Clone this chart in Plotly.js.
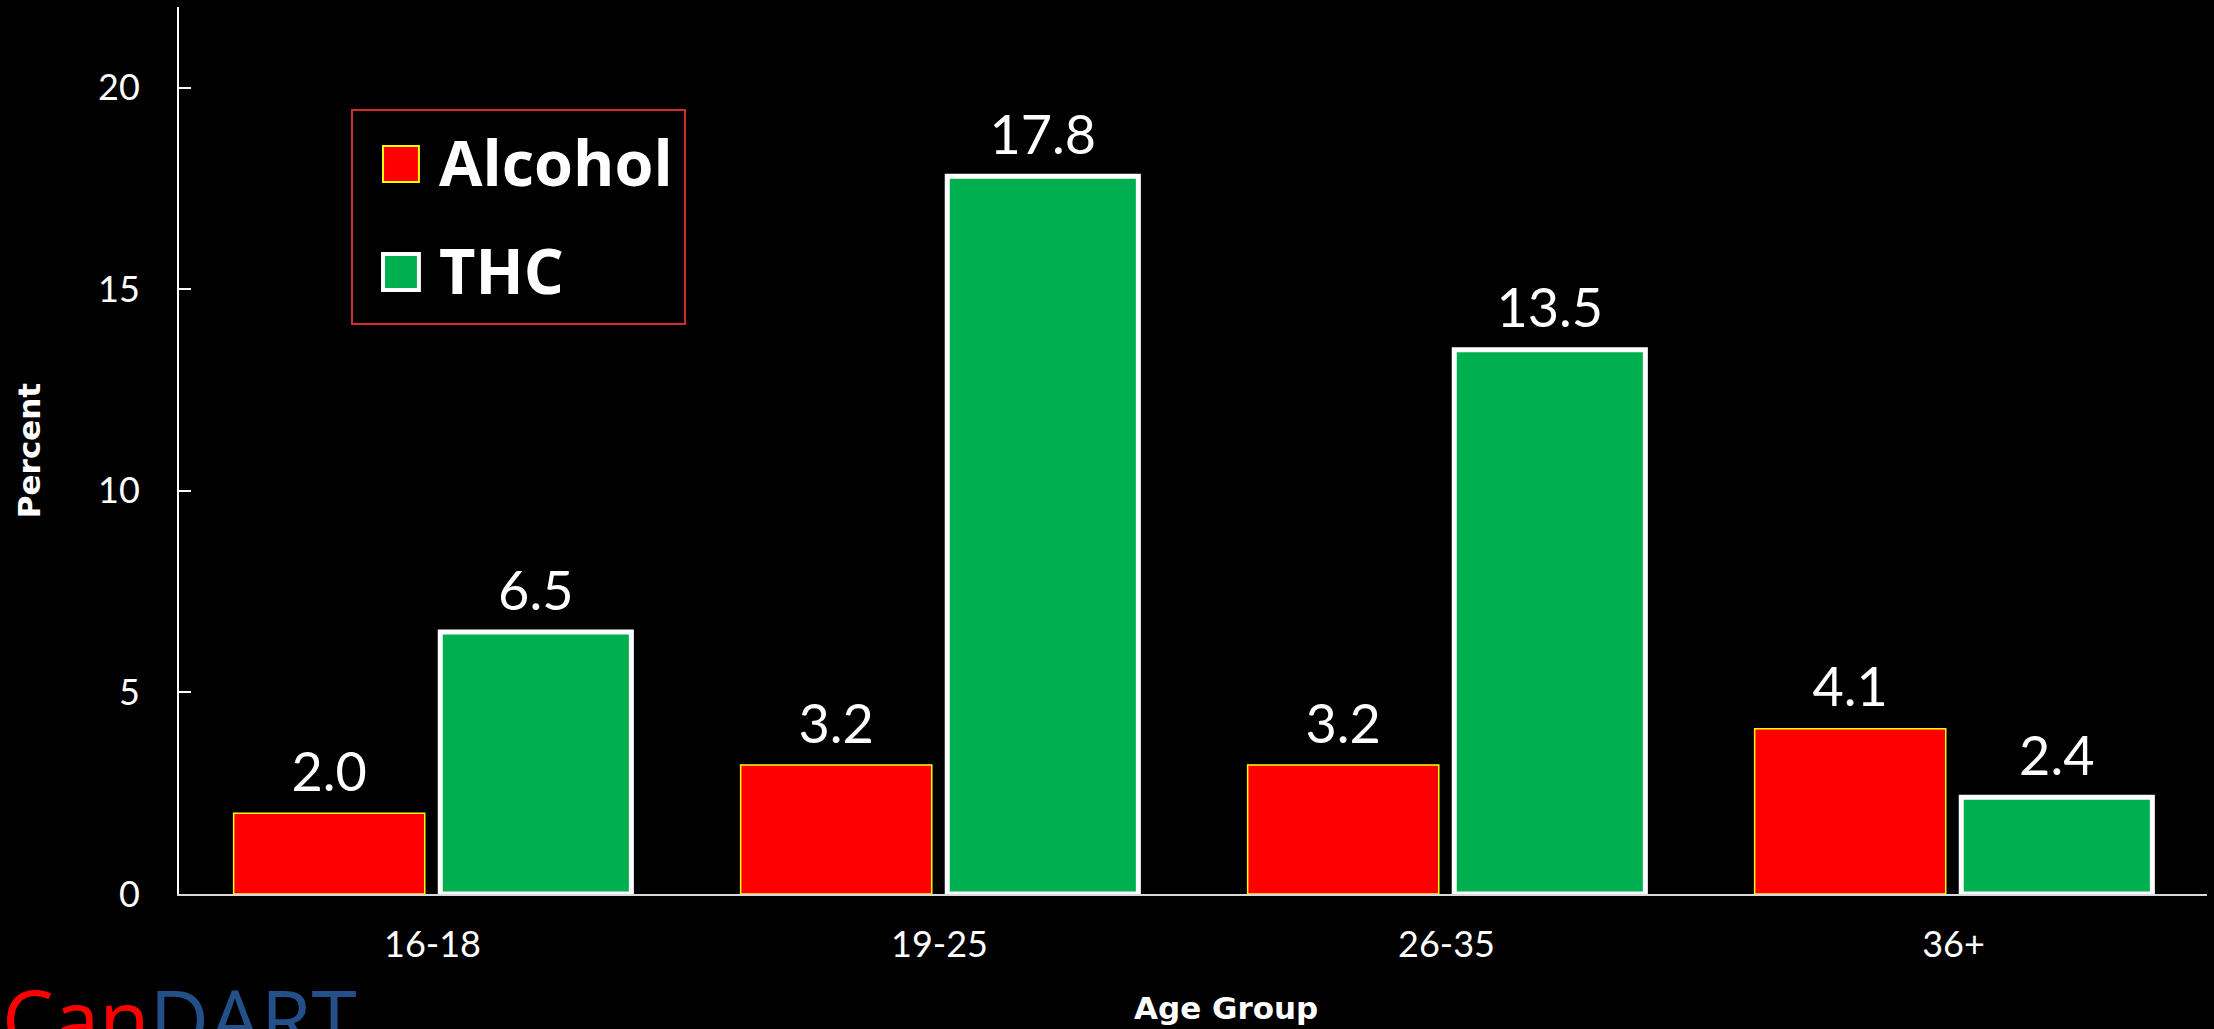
<!DOCTYPE html>
<html>
<head>
<meta charset="utf-8">
<script src="https://cdn.plot.ly/plotly-3.0.1.min.js"></script>
<style>
html,body{margin:0;padding:0;background:#000;}
#chart{width:2214px;height:1029px;}
</style>
</head>
<body>
<div id="chart"></div>
<script>
// ---- data ----
const ageGroups = ["16-18", "19-25", "26-35", "36+"];
const alcoholValues = [2.0, 3.2, 3.2, 4.1];
const thcValues = [6.5, 17.8, 13.5, 2.4];
const seriesNames = ["Alcohol", "THC"];
const yTickValues = [0, 5, 10, 15, 20];
const xAxisTitle = "Age Group";
const yAxisTitle = "Percent";
const logoParts = ["Can", "DART"];

const FONT = "Lato, 'Open Sans', sans-serif";
const TITLE_FONT = "'DejaVu Sans', sans-serif";
const LEGEND_FONT = "'Open Sans', sans-serif";
// label template: small subscript spaces give extra room between label and bar top
const LABEL_TEMPLATE = "<sub>\u00A0</sub>%{y:.1f}<sub>\u00A0</sub>";

const traces = [
  {
    type: "bar",
    name: seriesNames[0],
    x: ageGroups,
    y: alcoholValues,
    texttemplate: LABEL_TEMPLATE,
    textposition: "outside",
    textfont: {family: FONT, size: 54, color: "#ffffff"},
    cliponaxis: false,
    marker: {color: "#FF0000", line: {color: "#FFFF00", width: 1.5}},
    showlegend: false,
    hoverinfo: "none"
  },
  {
    type: "bar",
    name: seriesNames[1],
    x: ageGroups,
    y: thcValues,
    texttemplate: LABEL_TEMPLATE,
    textposition: "outside",
    textfont: {family: FONT, size: 54, color: "#ffffff"},
    cliponaxis: false,
    marker: {color: "#00B050", line: {color: "#FFFFFF", width: 5}},
    showlegend: false,
    hoverinfo: "none"
  }
];

// legend drawn with shapes/annotations (paper coords)
const shapes = [
  {type: "rect", xref: "paper", yref: "paper", x0: 0.0853, x1: 0.2495, y0: 0.6426, y1: 0.8839,
   line: {color: "#D42A2A", width: 2}, fillcolor: "rgba(0,0,0,0)"},
  {type: "rect", xref: "paper", yref: "paper", x0: 0.1006, x1: 0.1183, y0: 0.8027, y1: 0.8433,
   line: {color: "#FFFF00", width: 2}, fillcolor: "#FF0000"},
  {type: "rect", xref: "paper", yref: "paper", x0: 0.1006, x1: 0.1183, y0: 0.681, y1: 0.7215,
   line: {color: "#FFFFFF", width: 4}, fillcolor: "#00B050"}
];

const annotations = [
  {xref: "paper", yref: "paper", x: 0.1272, y: 0.8253, xanchor: "left", yanchor: "middle",
   text: "<b>" + seriesNames[0] + "</b>", showarrow: false,
   font: {family: LEGEND_FONT, size: 63, color: "#ffffff"}},
  {xref: "paper", yref: "paper", x: 0.1272, y: 0.7035, xanchor: "left", yanchor: "middle",
   text: "<b>" + seriesNames[1] + "</b>", showarrow: false,
   font: {family: LEGEND_FONT, size: 63, color: "#ffffff"}},
  // x-axis title (sits slightly right of the plot centre in the reference)
  {xref: "paper", yref: "paper", x: 0.5165, y: -0.1285, xanchor: "center", yanchor: "middle",
   text: "<b>" + xAxisTitle + "</b>", showarrow: false,
   font: {family: TITLE_FONT, size: 31, color: "#ffffff"}},
  {xref: "paper", yref: "paper", x: -0.0883, y: -0.074, xanchor: "left", yanchor: "top",
   text: "<span style='color:#FF0000'>" + logoParts[0] + "</span><span style='color:#24508A'>" + logoParts[1] + "</span>",
   showarrow: false, font: {family: "'Open Sans', sans-serif", size: 82, color: "#FF0000"}}
];

const layout = {
  width: 2214,
  height: 1029,
  paper_bgcolor: "#000000",
  plot_bgcolor: "#000000",
  margin: {l: 179, r: 7, t: 7, b: 135},
  font: {family: FONT, color: "#ffffff"},
  barmode: "group",
  bargap: 0.185,
  bargroupgap: 0.075,
  xaxis: {
    type: "category",
    range: [-0.5, 3.5],
    showgrid: false,
    zeroline: false,
    showline: true,
    linecolor: "#D9D9D9",
    linewidth: 2,
    ticks: "",
    tickfont: {family: FONT, size: 36, color: "#ffffff"},
    ticklabelstandoff: 18,
    automargin: false
  },
  yaxis: {
    range: [0, 22],
    tickvals: yTickValues,
    showgrid: false,
    zeroline: false,
    showline: true,
    linecolor: "#FFFFFF",
    linewidth: 2,
    ticks: "inside",
    ticklen: 12,
    tickwidth: 2,
    tickcolor: "#FFFFFF",
    tickfont: {family: FONT, size: 36, color: "#ffffff"},
    ticklabelstandoff: 30,
    title: {text: "<b>" + yAxisTitle + "</b>", font: {family: TITLE_FONT, size: 31, color: "#ffffff"}, standoff: 48},
    automargin: false
  },
  shapes: shapes,
  annotations: annotations
};

Plotly.newPlot("chart", traces, layout, {displayModeBar: false, staticPlot: true});
</script>
</body>
</html>
